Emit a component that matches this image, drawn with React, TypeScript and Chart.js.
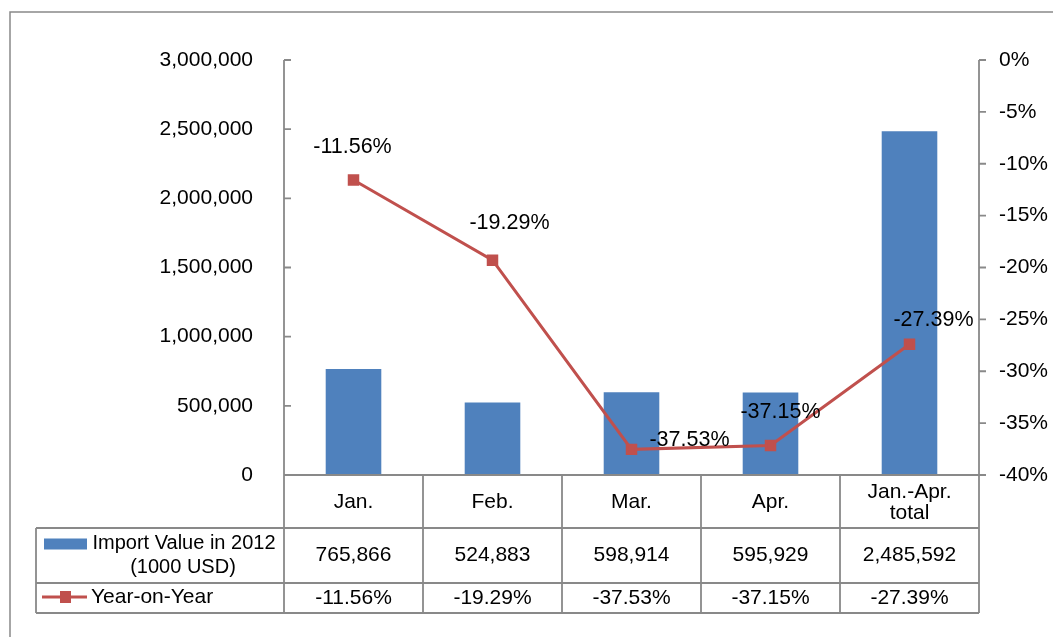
import React, { useEffect, useRef } from "react";
import { Chart, registerables } from "chart.js";

Chart.register(...registerables);

const categories: string[][] = [["Jan."], ["Feb."], ["Mar."], ["Apr."], ["Jan.-Apr.", "total"]];
const importValues = [765866, 524883, 598914, 595929, 2485592];
const yoyValues = [-11.56, -19.29, -37.53, -37.15, -27.39];
const leftTicks = [0, 500000, 1000000, 1500000, 2000000, 2500000, 3000000];
const rightTicks = [0, -5, -10, -15, -20, -25, -30, -35, -40];
const barLabel = ["Import Value in 2012", "(1000 USD)"];
const lineLabel = "Year-on-Year";

// label placement offsets (style, not data)
const labelOffsets = [
  [-1, -33],
  [17, -37],
  [58, -9],
  [10, -33],
  [24, -24],
];

const FONT = "'Liberation Sans', Arial, sans-serif";
const GRAY = "#898989";
const BLUE = "#4F81BD";
const RED = "#C0504D";

const fmtNum = (v: number) => v.toLocaleString("en-US");
const fmtPct = (v: number) => v.toFixed(2) + "%";

const tablePlugin = {
  id: "tablePlugin",
  afterDraw(chart: any) {
    const ctx = chart.ctx as CanvasRenderingContext2D;
    const xs = chart.scales.x;
    const ys = chart.scales.y;
    const y1 = chart.scales.y1;
    const area = chart.chartArea;
    const left = area.left;
    const right = area.right;
    const axisY = area.bottom;
    const n = categories.length;
    const catW = (right - left) / n;
    const bounds: number[] = [];
    for (let i = 0; i <= n; i++) bounds.push(left + catW * i);
    const headerBottom = axisY + 53;
    const row1Bottom = headerBottom + 55;
    const row2Bottom = row1Bottom + 30;
    const legendLeft = 36;

    ctx.save();
    // outer border
    ctx.strokeStyle = GRAY;
    ctx.lineWidth = 1.5;
    ctx.beginPath();
    ctx.moveTo(10, 637);
    ctx.lineTo(10, 12);
    ctx.lineTo(1053, 12);
    ctx.stroke();

    ctx.strokeStyle = GRAY;
    ctx.lineWidth = 1.8;
    ctx.beginPath();
    ctx.moveTo(left, area.top);
    ctx.lineTo(left, row2Bottom);
    ctx.moveTo(right, area.top);
    ctx.lineTo(right, axisY);
    leftTicks.forEach((t) => {
      const py = ys.getPixelForValue(t);
      ctx.moveTo(left, py);
      ctx.lineTo(left + 7, py);
    });
    rightTicks.forEach((t) => {
      const py = y1.getPixelForValue(t);
      ctx.moveTo(right, py);
      ctx.lineTo(right + 7, py);
    });
    ctx.moveTo(left, axisY);
    ctx.lineTo(right, axisY);
    for (let i = 1; i <= n; i++) {
      ctx.moveTo(bounds[i], axisY);
      ctx.lineTo(bounds[i], row2Bottom);
    }
    ctx.moveTo(legendLeft, headerBottom);
    ctx.lineTo(legendLeft, row2Bottom);
    [headerBottom, row1Bottom, row2Bottom].forEach((yy) => {
      ctx.moveTo(legendLeft, yy);
      ctx.lineTo(right, yy);
    });
    ctx.stroke();

    ctx.fillStyle = "#000";
    ctx.font = `21px ${FONT}`;
    ctx.textAlign = "center";
    ctx.textBaseline = "middle";
    const hMid = (axisY + headerBottom) / 2;
    const r1Mid = (headerBottom + row1Bottom) / 2;
    const r2Mid = (row1Bottom + row2Bottom) / 2;
    for (let i = 0; i < n; i++) {
      const cx = xs.getPixelForValue(i);
      const lines = categories[i];
      const lh = 21;
      lines.forEach((ln, k) => {
        ctx.fillText(ln, cx, hMid + 1 + (k - (lines.length - 1) / 2) * lh);
      });
      ctx.fillText(fmtNum(importValues[i]), cx, r1Mid);
      ctx.fillText(fmtPct(yoyValues[i]), cx, r2Mid);
    }

    ctx.fillStyle = BLUE;
    ctx.fillRect(44, r1Mid - 17, 43, 11);
    ctx.fillStyle = "#000";
    ctx.font = `20px ${FONT}`;
    ctx.fillText(barLabel[0], 184, r1Mid - 12);
    ctx.fillText(barLabel[1], 183, r1Mid + 12);

    ctx.strokeStyle = RED;
    ctx.lineWidth = 3;
    ctx.beginPath();
    ctx.moveTo(42, r2Mid - 1);
    ctx.lineTo(87, r2Mid - 1);
    ctx.stroke();
    ctx.fillStyle = RED;
    ctx.fillRect(60, r2Mid - 7, 11, 12);
    ctx.fillStyle = "#000";
    ctx.textAlign = "left";
    ctx.font = `21px ${FONT}`;
    ctx.fillText(lineLabel, 91, r2Mid - 1);
    ctx.restore();
  },
  afterDatasetsDraw(chart: any) {
    const ctx = chart.ctx as CanvasRenderingContext2D;
    const meta = chart.getDatasetMeta(1);
    ctx.save();
    ctx.fillStyle = "#000";
    ctx.font = `21.5px ${FONT}`;
    ctx.textAlign = "center";
    ctx.textBaseline = "middle";
    meta.data.forEach((pt: any, i: number) => {
      const off = labelOffsets[i];
      ctx.fillText(fmtPct(yoyValues[i]), pt.x + off[0], pt.y + off[1]);
    });
    ctx.restore();
  },
};

export default function App() {
  const ref = useRef<HTMLCanvasElement>(null);
  useEffect(() => {
    if (!ref.current) return;
    const chart = new Chart(ref.current, {
      type: "bar",
      data: {
        labels: categories.map((c) => c.join(" ")),
        datasets: [
          {
            type: "bar",
            label: barLabel.join(" "),
            data: importValues,
            backgroundColor: BLUE,
            yAxisID: "y",
            barPercentage: 0.4,
            categoryPercentage: 1,
            order: 2,
          },
          {
            type: "line",
            label: lineLabel,
            data: yoyValues,
            borderColor: RED,
            backgroundColor: RED,
            borderWidth: 3,
            pointStyle: "rect",
            pointRadius: 6,
            pointBackgroundColor: RED,
            pointBorderColor: RED,
            yAxisID: "y1",
            order: 1,
            tension: 0,
          } as any,
        ],
      },
      options: {
        responsive: false,
        animation: false,
        layout: { padding: { top: 60, bottom: 162, left: 0, right: 0 } },
        plugins: { legend: { display: false }, tooltip: { enabled: false } },
        scales: {
          x: { display: false, offset: true },
          y: {
            position: "left",
            min: 0,
            max: 3000000,
            afterFit: (s: any) => {
              s.width = 284;
            },
            afterBuildTicks: (s: any) => {
              s.ticks = leftTicks.map((v) => ({ value: v }));
            },
            ticks: {
              color: "#000",
              padding: 31,
              font: { family: FONT, size: 21 },
              callback: (v: any) => fmtNum(Number(v)),
            },
            grid: { display: false, drawTicks: false },
            border: { display: false },
          },
          y1: {
            position: "right",
            min: -40,
            max: 0,
            afterFit: (s: any) => {
              s.width = 74;
            },
            afterBuildTicks: (s: any) => {
              s.ticks = rightTicks.map((v) => ({ value: v }));
            },
            ticks: {
              color: "#000",
              padding: 20,
              font: { family: FONT, size: 21 },
              callback: (v: any) => Number(v) + "%",
            },
            grid: { display: false, drawTicks: false },
            border: { display: false },
          },
        } as any,
      },
      plugins: [tablePlugin],
    });
    return () => chart.destroy();
  }, []);
  return (
    <div style={{ position: "absolute", left: 0, top: 0, width: 1053, height: 637, background: "#fff" }}>
      <canvas ref={ref} width={1053} height={637} style={{ display: "block" }} />
    </div>
  );
}
